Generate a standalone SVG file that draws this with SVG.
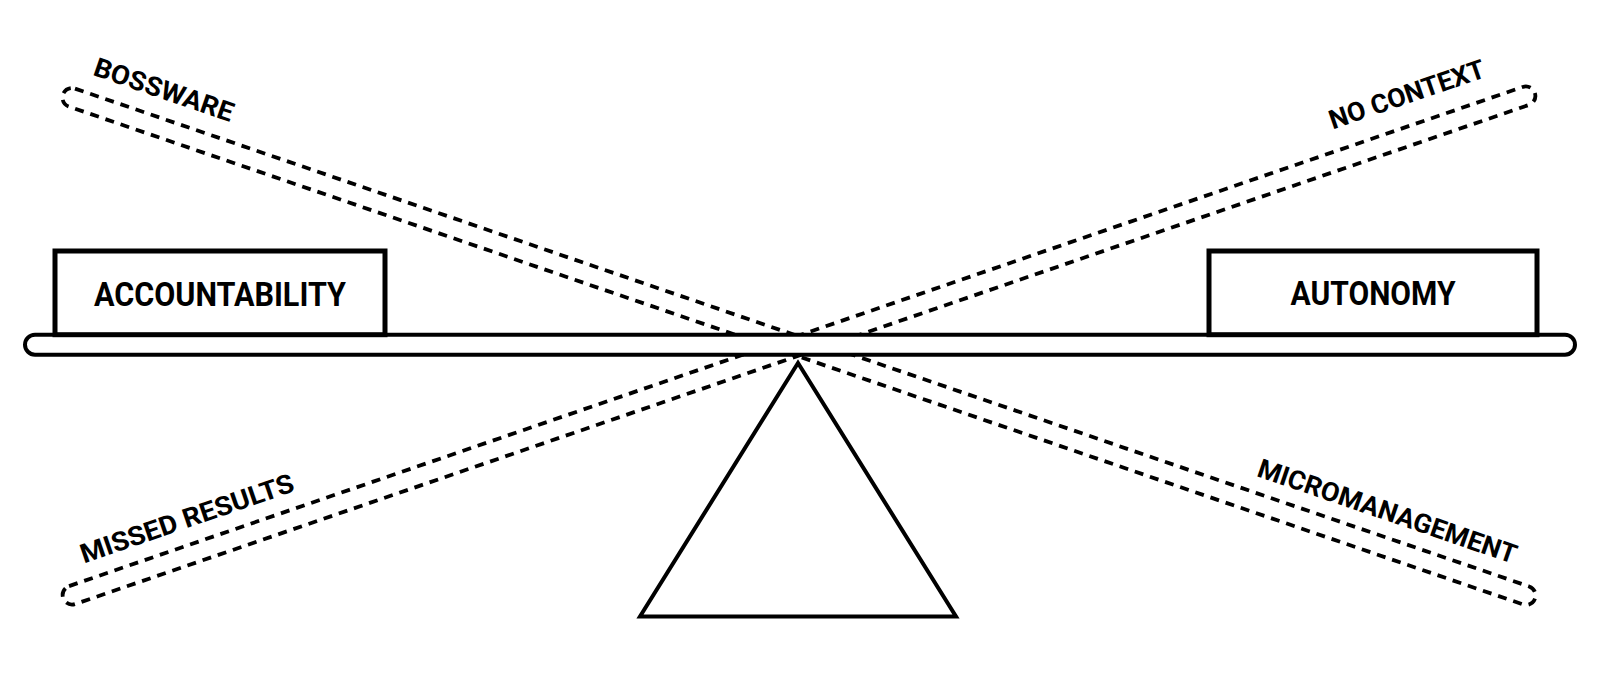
<svg xmlns="http://www.w3.org/2000/svg" width="1600" height="690" viewBox="0 0 1600 690">
<style>
.bg{fill:#fff}
.bar{fill:none;stroke:#000;stroke-width:3.8;stroke-dasharray:9 7}
.solid{fill:#fff;stroke:#000}
.lbl{font-family:Roboto,"Liberation Sans",sans-serif;font-weight:700;font-size:26.5px;fill:#000}
.box{font-family:Roboto,"Liberation Sans",sans-serif;font-weight:700;font-size:33px;fill:#000}
</style>
<rect class="bg" x="0" y="0" width="1600" height="690"/>
<g id="tension-bars">
  <g id="bar-bossware-micromanagement" transform="translate(799,346.5) rotate(18.9)">
    <rect class="bar" x="-778" y="-9.5" width="1556" height="19" rx="9.5"/>
    <text class="lbl" x="-757" y="-28" textLength="146" lengthAdjust="spacingAndGlyphs">BOSSWARE</text>
    <text class="lbl" x="474" y="-25.5" textLength="272" lengthAdjust="spacingAndGlyphs">MICROMANAGEMENT</text>
  </g>
  <g id="bar-missed-nocontext" transform="translate(799,345.5) rotate(-18.95)">
    <rect class="bar" x="-778" y="-9.5" width="1556" height="19" rx="9.5"/>
    <text class="lbl" x="-747" y="-26" textLength="224" lengthAdjust="spacingAndGlyphs">MISSED RESULTS</text>
    <text class="lbl" x="575" y="-31" textLength="163" lengthAdjust="spacingAndGlyphs">NO CONTEXT</text>
  </g>
</g>
<g id="fulcrum">
  <polygon class="solid" points="798,363 640,616.5 956,616.5" stroke-width="4"/>
</g>
<g id="beam">
  <rect class="solid" x="25" y="334.7" width="1550" height="20" rx="10" stroke-width="4"/>
</g>
<g id="accountability">
  <rect class="solid" x="55" y="251" width="330" height="83.7" stroke-width="5"/>
  <text class="box" x="220" y="306" text-anchor="middle" textLength="252" lengthAdjust="spacingAndGlyphs">ACCOUNTABILITY</text>
</g>
<g id="autonomy">
  <rect class="solid" x="1209" y="251" width="328" height="83.7" stroke-width="5"/>
  <text class="box" x="1373" y="305" text-anchor="middle" textLength="165" lengthAdjust="spacingAndGlyphs">AUTONOMY</text>
</g>
</svg>
